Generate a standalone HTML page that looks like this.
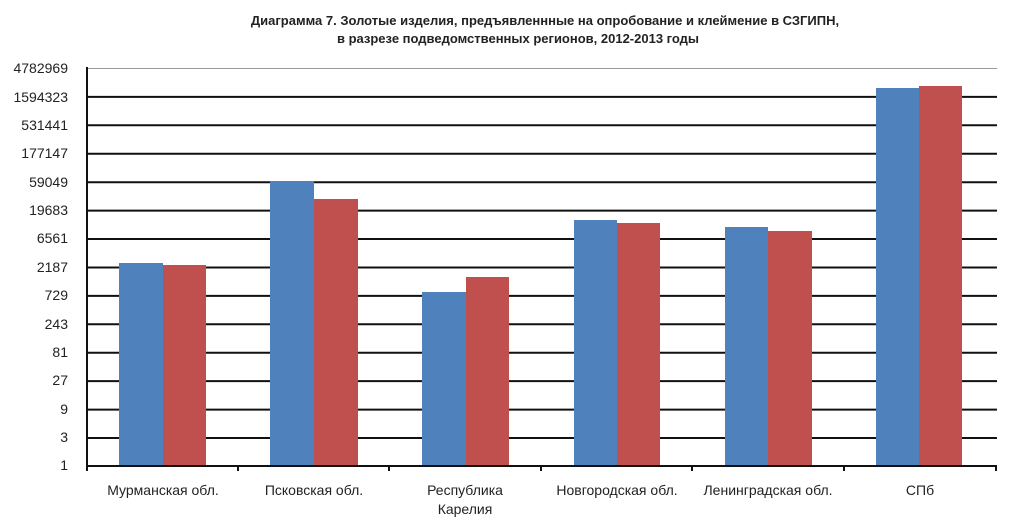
<!DOCTYPE html>
<html><head><meta charset="utf-8"><style>
body{margin:0;background:#fff;width:1024px;height:526px;overflow:hidden}
svg text{font-family:"Liberation Sans","DejaVu Sans",sans-serif}
</style></head><body>
<svg width="1024" height="526" viewBox="0 0 1024 526" xmlns="http://www.w3.org/2000/svg">
<text x="545" y="25" font-size="13" font-weight="bold" text-anchor="middle" fill="#222">Диаграмма 7. Золотые изделия, предъявленнные на опробование и клеймение в СЗГИПН,</text>
<text x="518" y="43" font-size="13" font-weight="bold" text-anchor="middle" fill="#222">в разрезе подведомственных регионов, 2012-2013 годы</text>
<g stroke="#111" stroke-width="2">
<line x1="87" y1="68.5" x2="997" y2="68.5" stroke="#999" stroke-width="1"/>
<line x1="87" y1="96.9" x2="997" y2="96.9"/>
<line x1="87" y1="125.3" x2="997" y2="125.3"/>
<line x1="87" y1="153.8" x2="997" y2="153.8"/>
<line x1="87" y1="182.2" x2="997" y2="182.2"/>
<line x1="87" y1="210.6" x2="997" y2="210.6"/>
<line x1="87" y1="239" x2="997" y2="239"/>
<line x1="87" y1="267.5" x2="997" y2="267.5"/>
<line x1="87" y1="295.9" x2="997" y2="295.9"/>
<line x1="87" y1="324.3" x2="997" y2="324.3"/>
<line x1="87" y1="352.7" x2="997" y2="352.7"/>
<line x1="87" y1="381.1" x2="997" y2="381.1"/>
<line x1="87" y1="409.6" x2="997" y2="409.6"/>
<line x1="87" y1="438" x2="997" y2="438"/>
</g>
<g fill="#4f81bd">
<rect x="119" y="263" width="44" height="203"/>
<rect x="270" y="181" width="44" height="285"/>
<rect x="422" y="292" width="44" height="174"/>
<rect x="574" y="220" width="43" height="246"/>
<rect x="725" y="227" width="43" height="239"/>
<rect x="876" y="88" width="43" height="378"/>
</g>
<g fill="#c0504d">
<rect x="163" y="265" width="43" height="201"/>
<rect x="314" y="199" width="44" height="267"/>
<rect x="466" y="277" width="43" height="189"/>
<rect x="617" y="223" width="43" height="243"/>
<rect x="768" y="231" width="44" height="235"/>
<rect x="919" y="86" width="43" height="380"/>
</g>
<g stroke="#111" stroke-width="2">
<line x1="87" y1="67" x2="87" y2="467"/>
<line x1="86" y1="466" x2="997" y2="466"/>
<line x1="87" y1="466" x2="87" y2="471"/>
<line x1="238" y1="466" x2="238" y2="471"/>
<line x1="389" y1="466" x2="389" y2="471"/>
<line x1="541" y1="466" x2="541" y2="471"/>
<line x1="692" y1="466" x2="692" y2="471"/>
<line x1="844" y1="466" x2="844" y2="471"/>
<line x1="996" y1="466" x2="996" y2="471"/>
</g>
<g font-size="14" fill="#222" text-anchor="end">
<text x="68" y="73">4782969</text>
<text x="68" y="102">1594323</text>
<text x="68" y="130">531441</text>
<text x="68" y="158">177147</text>
<text x="68" y="187">59049</text>
<text x="68" y="215">19683</text>
<text x="68" y="243">6561</text>
<text x="68" y="272">2187</text>
<text x="68" y="300">729</text>
<text x="68" y="329">243</text>
<text x="68" y="357">81</text>
<text x="68" y="385">27</text>
<text x="68" y="414">9</text>
<text x="68" y="442">3</text>
<text x="68" y="470">1</text>
</g>
<g font-size="14" fill="#222" text-anchor="middle">
<text x="163" y="495">Мурманская обл.</text>
<text x="314" y="495">Псковская обл.</text>
<text x="465" y="495">Республика</text>
<text x="465" y="514">Карелия</text>
<text x="617" y="495">Новгородская обл.</text>
<text x="768" y="495">Ленинградская обл.</text>
<text x="920" y="495">СПб</text>
</g>
</svg>
</body></html>
